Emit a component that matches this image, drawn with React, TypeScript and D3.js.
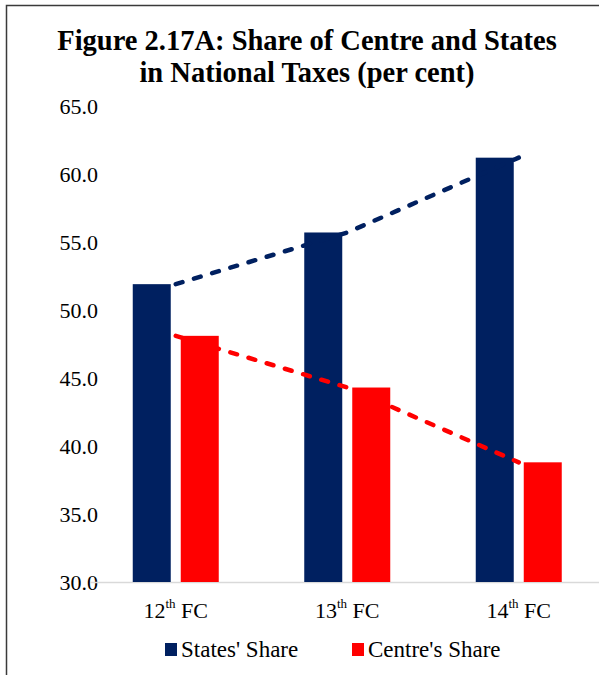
import React from "react";
import * as d3 from "d3";

const categories = ["12", "13", "14"];
const statesShare = [51.9, 55.7, 61.2];
const centreShare = [48.1, 44.3, 38.8];
const yTicks = [30, 35, 40, 45, 50, 55, 60, 65];
const seriesNames = ["States' Share", "Centre's Share"];
const titleLines = ["Figure 2.17A: Share of Centre and States", "in National Taxes (per cent)"];

const NAVY = "#002060";
const RED = "#FF0000";
const SERIF = "Liberation Serif, Times New Roman, serif";

export default function App() {
  const W = 599, H = 675;
  const x = d3.scaleBand<string>().domain(categories).range([90, 604.5]);
  const y = d3.scaleLinear().domain([30, 65]).range([582, 106]);
  const barW = 38, gap = 10;
  const cx = (c: string) => (x(c) as number) + x.bandwidth() / 2;
  const line = d3.line<[number, number]>().x((d) => d[0]).y((d) => d[1]);
  const series = [
    { name: seriesNames[0], values: statesShare, color: NAVY, off: -gap / 2 - barW },
    { name: seriesNames[1], values: centreShare, color: RED, off: gap / 2 },
  ];
  return (
    <svg width={W} height={H} style={{ position: "absolute", left: 0, top: 0, background: "#fff" }}>
      <rect x={0} y={0} width={W} height={H} fill="#fff" />
      <path d={`M6.5,${H} V5.5 H${W}`} fill="none" stroke="#3a3a3a" strokeWidth={1.5} />
      {titleLines.map((t, i) => (
        <text key={i} x={307} y={50 + i * 32} textAnchor="middle" fontFamily={SERIF} fontWeight="bold" fontSize={28.5} fill="#000">
          {t}
        </text>
      ))}
      {yTicks.map((t) => (
        <text key={t} x={98} y={y(t) + 7.5} textAnchor="end" fontFamily={SERIF} fontSize={22} fill="#000">
          {t.toFixed(1)}
        </text>
      ))}
      <line x1={90} x2={W} y1={y(30) + 0.5} y2={y(30) + 0.5} stroke="#d9d9d9" strokeWidth={1.5} />
      {series.map((s) =>
        categories.map((c, i) => (
          <rect
            key={s.name + c}
            x={cx(c) + s.off}
            y={y(s.values[i])}
            width={barW}
            height={y(30) - y(s.values[i])}
            fill={s.color}
          />
        ))
      )}
      {series.map((s) => (
        <path
          key={s.name + "line"}
          d={line(categories.map((c, i) => [cx(c), y(s.values[i])])) || ""}
          fill="none"
          stroke={s.color}
          strokeWidth={4.5}
          strokeDasharray="7 12"
          strokeLinecap="round"
        />
      ))}
      {categories.map((c) => (
        <text key={c} x={cx(c)} y={618} textAnchor="middle" fontFamily={SERIF} fontSize={22} fill="#000">
          {c}
          <tspan fontSize={13} dy={-10}>th</tspan>
          <tspan dy={10}> FC</tspan>
        </text>
      ))}
      <rect x={165} y={643} width={12} height={13} fill={NAVY} />
      <text x={181} y={657} fontFamily={SERIF} fontSize={23} fill="#000">{seriesNames[0]}</text>
      <rect x={352} y={643} width={12} height={13} fill={RED} />
      <text x={368} y={657} fontFamily={SERIF} fontSize={23} fill="#000">{seriesNames[1]}</text>
    </svg>
  );
}
